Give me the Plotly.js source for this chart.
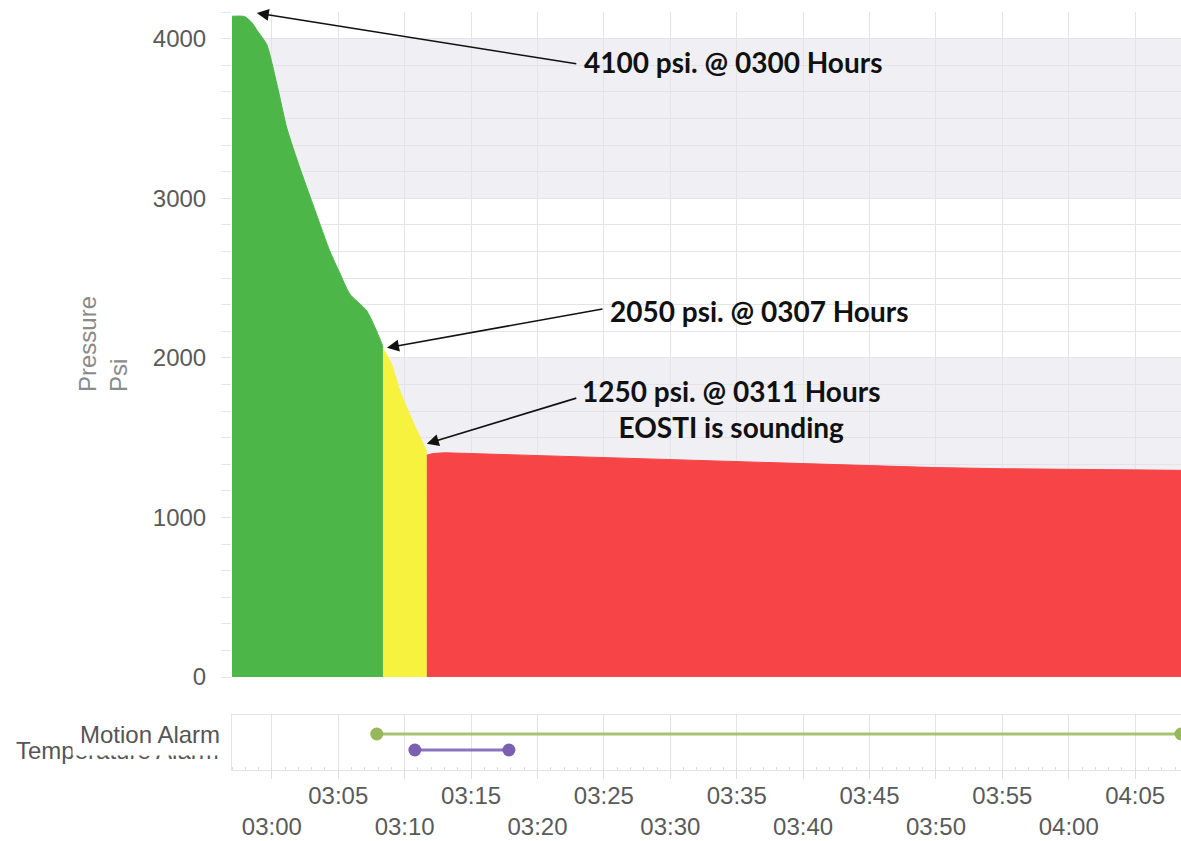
<!DOCTYPE html>
<html><head><meta charset="utf-8">
<script src="https://cdn.plot.ly/plotly-3.0.1.min.js"></script>
<style>html,body{margin:0;padding:0;background:#fff}#chart{width:1181px;height:841px}</style>
</head><body><div id="chart"></div>
<script>
// ---------------- data ----------------
const day = '2024-01-01 ';
const xRange = ['02:57:00', '04:08:27'];
const xTickLabels = ['03:00','03:05','03:10','03:15','03:20','03:25','03:30','03:35','03:40','03:45','03:50','03:55','04:00','04:05'];
const yTicks = [0, 1000, 2000, 3000, 4000];

const greenTimes = ['02:57:00','02:57:58','02:58:30','02:58:57','02:59:37','03:00:23','03:01:08','03:02:07','03:03:05','03:04:22','03:05:07','03:05:52','03:07:09','03:08:17','03:08:22'];
const greenPsi   = [4140, 4138, 4100, 4044, 3963, 3713, 3438, 3188, 2963, 2669, 2531, 2400, 2294, 2088, 2060];

const yellowTimes = ['03:08:22','03:09:00','03:09:38','03:10:15','03:10:55','03:11:31','03:11:40'];
const yellowPsi   = [2060, 1960, 1794, 1669, 1544, 1438, 1410];

const redTimes = ['03:11:40','03:12:07','03:13:00','03:15:00','03:20:00','03:25:00','03:30:00','03:35:00','03:40:00','03:45:00','03:50:00','03:55:00','04:00:00','04:08:27'];
const redPsi   = [1390, 1400, 1405, 1400, 1385, 1372, 1360, 1348, 1337, 1325, 1312, 1305, 1300, 1295];

const alarmNames = ['Motion Alarm', 'Temperature Alarm'];
const motionTimes = ['03:07:54', '04:08:27'];
const tempTimes = ['03:10:46', '03:17:51'];

const bandLow  = [3000, 1000];
const bandHigh = [4000, 2000];

const noteTexts = ['4100 psi. @ 0300 Hours', '2050 psi. @ 0307 Hours', '1250 psi. @ 0311 Hours<br>EOSTI is sounding'];
const noteTimes = ['02:58:52', '03:08:40', '03:11:40'];
const notePsi   = [4160, 2063, 1462];

// ---------------- layout geometry ----------------
const W = 1181, H = 841, mL = 232, mR = 0, mT = 12, mB = 71;
const plotW = W - mL - mR, plotH = H - mT - mB;
const pxX = px => (px - mL) / plotW;
const pxY = py => (H - mB - py) / plotH;

const t = s => day + s;
const tickVals = xTickLabels.map(t);
const oddIdx = xTickLabels.map((_, i) => i).filter(i => i % 2 === 1);
const evenIdx = xTickLabels.map((_, i) => i).filter(i => i % 2 === 0);

const FONT = 'Liberation Sans, Arial, sans-serif';
const GRID = '#e3e3e9';

const traces = [
  {x: greenTimes.map(t), y: greenPsi, type: 'scatter', mode: 'lines', fill: 'tozeroy',
   fillcolor: '#4cb649', line: {color: '#4cb649', width: 1, shape: 'spline', smoothing: 0.6},
   xaxis: 'x', yaxis: 'y', hoverinfo: 'skip'},
  {x: yellowTimes.map(t), y: yellowPsi, type: 'scatter', mode: 'lines', fill: 'tozeroy',
   fillcolor: '#f6f23e', line: {color: '#f6f23e', width: 1, shape: 'spline', smoothing: 0.6},
   xaxis: 'x', yaxis: 'y', hoverinfo: 'skip'},
  {x: redTimes.map(t), y: redPsi, type: 'scatter', mode: 'lines', fill: 'tozeroy',
   fillcolor: '#f74447', line: {color: '#f74447', width: 1},
   xaxis: 'x', yaxis: 'y', hoverinfo: 'skip'},
  {x: motionTimes.map(t), y: motionTimes.map(() => alarmNames.length - 1 - 0), type: 'scatter', mode: 'lines+markers',
   line: {color: '#a6c46f', width: 3}, marker: {color: '#96b75a', size: 13},
   xaxis: 'x2', yaxis: 'y2', hoverinfo: 'skip'},
  {x: tempTimes.map(t), y: tempTimes.map(() => alarmNames.length - 1 - 1), type: 'scatter', mode: 'lines+markers',
   line: {color: '#8b74bf', width: 3}, marker: {color: '#7b5fb0', size: 13},
   xaxis: 'x3', yaxis: 'y2', hoverinfo: 'skip'}
];

const tickFont = {family: FONT, size: 24, color: '#5a5a5a'};

const annotations = [];
// y axis title
annotations.push({text: 'Pressure<br>Psi', textangle: -90, align: 'left', showarrow: false,
  xref: 'paper', yref: 'paper', x: pxX(103), y: pxY(344), xanchor: 'center', yanchor: 'middle',
  font: {family: FONT, size: 24, color: '#8a8a8a'}});
// alarm labels (Temperature first so Motion's white box overlaps it)
annotations.push({text: alarmNames[1], showarrow: false, xref: 'paper', yref: 'y2',
  x: pxX(221), y: alarmNames.length - 1 - 1, xanchor: 'right', yanchor: 'middle',
  font: {family: FONT, size: 24, color: '#555'}});
annotations.push({text: alarmNames[0], showarrow: false, xref: 'paper', yref: 'y2',
  x: pxX(228), y: alarmNames.length - 1 - 0, xanchor: 'right', yanchor: 'middle',
  bgcolor: '#ffffff', borderpad: 7,
  font: {family: FONT, size: 24, color: '#555'}});
// arrows (tail offsets in pixels)
const arrowTail = [[321, 51], [217, -39], [151, -46]];
noteTimes.forEach((tm, i) => {
  annotations.push({text: '', x: t(tm), y: notePsi[i], xref: 'x', yref: 'y',
    showarrow: true, ax: arrowTail[i][0], ay: arrowTail[i][1], axref: 'pixel', ayref: 'pixel',
    arrowhead: 2, arrowsize: 1.5, arrowwidth: 1.6, arrowcolor: '#111', standoff: 0, startstandoff: 0});
});
// note texts
const notePos = [[733, 62], [759, 311], [731, 409]];
noteTexts.forEach((txt, i) => {
  annotations.push({text: txt, showarrow: false, xref: 'paper', yref: 'paper',
    x: pxX(notePos[i][0]), y: pxY(notePos[i][1]), xanchor: 'center', yanchor: 'middle', align: 'center',
    font: {family: 'Lato, sans-serif', size: 28, color: '#111', weight: 'bold'}});
});

const shapes = bandLow.map((lo, i) => ({type: 'rect', xref: 'x domain', yref: 'y', x0: 0, x1: 1,
  y0: lo, y1: bandHigh[i], fillcolor: '#efeff4', line: {width: 0}, layer: 'below'}));

const minorX = {ticks: 'outside', ticklen: 8, tickcolor: '#dedede', dtick: 300000, tick0: t('03:00:00'), showgrid: false};

const layout = {
  width: W, height: H, margin: {l: mL, r: mR, t: mT, b: mB, pad: 0},
  paper_bgcolor: '#fff', plot_bgcolor: 'rgba(0,0,0,0)', showlegend: false,
  font: {family: FONT},
  xaxis: {type: 'date', range: xRange.map(t), anchor: 'y', tickvals: tickVals, showticklabels: false,
    ticks: '', showgrid: true, gridcolor: GRID, zeroline: false, showline: false},
  yaxis: {domain: [pxY(677), 1], range: [0, 25000 / 6], tickmode: 'linear', tick0: 0, dtick: 1000,
    ticks: 'outside', ticklen: 10, tickcolor: '#e3e3e3', showgrid: true, gridcolor: GRID,
    minor: {dtick: 1000 / 6, tick0: 0, showgrid: true, gridcolor: GRID, ticks: 'outside', ticklen: 10, tickcolor: '#e6e6e6'},
    tickfont: tickFont, zeroline: false, showline: false, ticklabelstandoff: 10},
  xaxis2: {type: 'date', range: xRange.map(t), anchor: 'y2', tickvals: oddIdx.map(i => tickVals[i]),
    ticktext: oddIdx.map(i => xTickLabels[i]), ticks: '',
    minor: minorX,
    showgrid: true, gridcolor: GRID, showline: true, mirror: true, linecolor: '#e4e4e4',
    tickfont: tickFont, ticklabelstandoff: 4, zeroline: false},
  xaxis3: {type: 'date', range: xRange.map(t), anchor: 'y2', overlaying: 'x2', tickvals: evenIdx.map(i => tickVals[i]),
    ticktext: evenIdx.map(i => xTickLabels[i]), ticks: '',
    minor: {ticks: 'inside', ticklen: 3, tickcolor: '#dcdcdc', dtick: 60000, tick0: t('03:00:00'), showgrid: false},
    showgrid: true, gridcolor: GRID, showline: false, tickfont: tickFont, ticklabelstandoff: 40, zeroline: false},
  yaxis2: {domain: [0, pxY(715)], range: [-1.25, 2.1875], showticklabels: false, ticks: '',
    showgrid: false, zeroline: false, showline: true, mirror: true, linecolor: '#e4e4e4'},
  shapes: shapes,
  annotations: annotations
};

Plotly.newPlot('chart', traces, layout, {displayModeBar: false, staticPlot: true});
</script></body></html>
